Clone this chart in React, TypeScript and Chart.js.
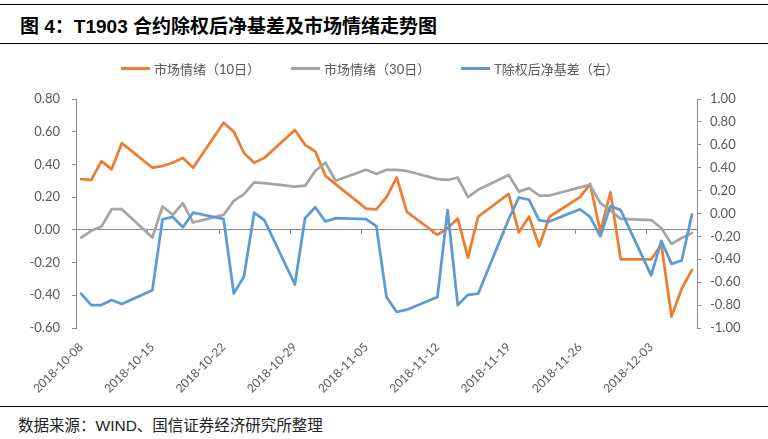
import React, { useEffect, useRef } from 'react';
import { Chart, registerables } from 'chart.js';

Chart.register(...registerables);

// ---- data ----
const tradeDates = [
  '2018-10-08', '2018-10-09', '2018-10-10', '2018-10-11', '2018-10-12',
  '2018-10-15', '2018-10-16', '2018-10-17', '2018-10-18', '2018-10-19',
  '2018-10-22', '2018-10-23', '2018-10-24', '2018-10-25', '2018-10-26',
  '2018-10-29', '2018-10-30', '2018-10-31', '2018-11-01', '2018-11-02',
  '2018-11-05', '2018-11-06', '2018-11-07', '2018-11-08', '2018-11-09',
  '2018-11-12', '2018-11-13', '2018-11-14', '2018-11-15', '2018-11-16',
  '2018-11-19', '2018-11-20', '2018-11-21', '2018-11-22', '2018-11-23',
  '2018-11-26', '2018-11-27', '2018-11-28', '2018-11-29', '2018-11-30',
  '2018-12-03', '2018-12-04', '2018-12-05', '2018-12-06', '2018-12-07',
];

const mood10 = [
  0.31, 0.305, 0.42, 0.37, 0.53,
  0.38, 0.39, 0.41, 0.44, 0.38,
  0.655, 0.6, 0.47, 0.41, 0.44,
  0.61, 0.52, 0.48, 0.33, 0.28,
  0.13, 0.125, 0.2, 0.32, 0.11,
  -0.03, 0.01, 0.07, -0.17, 0.08,
  0.22, -0.015, 0.08, -0.1, 0.08,
  0.2, 0.28, -0.01, 0.23, -0.18,
  -0.18, -0.09, -0.53, -0.36, -0.245,
];

const mood30 = [
  -0.047, -0.006, 0.02, 0.126, 0.126,
  -0.047, 0.143, 0.092, 0.163, 0.045,
  0.092, 0.177, 0.218, 0.29, 0.285,
  0.265, 0.27, 0.36, 0.41, 0.3,
  0.367, 0.342, 0.367, 0.367, 0.36,
  0.31, 0.305, 0.32, 0.2, 0.245,
  0.336, 0.234, 0.255, 0.21, 0.21,
  0.26, 0.275, 0.163, 0.12, 0.067,
  0.06, 0.01, -0.086, -0.05, -0.02,
];

const netBasis = [
  -0.7, -0.8, -0.8, -0.755, -0.79,
  -0.67, -0.05, -0.03, -0.12, 0.007,
  -0.048, -0.7, -0.55, 0.007, -0.057,
  -0.62, -0.04, 0.054, -0.07, -0.04,
  -0.05, -0.11, -0.73, -0.86, -0.84,
  -0.73, 0.03, -0.8, -0.71, -0.7,
  -0.05, 0.14, 0.12, -0.06, -0.07,
  0.037, -0.03, -0.2, 0.065, 0.03,
  -0.54, -0.24, -0.44, -0.41, -0.01,
];

const seriesNames = ['市场情绪（10日）', '市场情绪（30日）', 'T除权后净基差（右）'];
const seriesColors = ['#ED7D31', '#A5A5A5', '#5B9BD5'];
const leftRange = [-0.6, 0.8];
const rightRange = [-1, 1];
const tickStep = 0.2;
const labelEvery = 7;

const titleText = '图 4：T1903 合约除权后净基差及市场情绪走势图';
const sourceText = '数据来源：WIND、国信证券经济研究所整理';

// ---- helpers ----
function buildDays(first: string, last: string): string[] {
  const out: string[] = [];
  const d = new Date(first + 'T00:00:00Z');
  const end = new Date(last + 'T00:00:00Z');
  while (d.getTime() <= end.getTime()) {
    out.push(d.toISOString().slice(0, 10));
    d.setUTCDate(d.getUTCDate() + 1);
  }
  return out;
}
const allDays = buildDays(tradeDates[0], tradeDates[tradeDates.length - 1]);
function align(values: number[]): (number | null)[] {
  const m = new Map<string, number>();
  tradeDates.forEach((t, i) => m.set(t, values[i]));
  return allDays.map((d) => (m.has(d) ? (m.get(d) as number) : null));
}

const AXIS_GREY = '#898989';
const TEXT_GREY = '#595959';
const FONT = 'Lato, "Noto Sans CJK SC", sans-serif';

const weekTicks = {
  id: 'weekTicks',
  beforeDatasetsDraw(chart: any) {
    const xs = chart.scales.x;
    const ys = chart.scales.y;
    const y0 = ys.getPixelForValue(0);
    const w = xs.getPixelForValue(1) - xs.getPixelForValue(0);
    const ctx = chart.ctx;
    ctx.save();
    ctx.strokeStyle = AXIS_GREY;
    ctx.lineWidth = 1;
    for (let i = labelEvery; i < allDays.length; i += labelEvery) {
      const px = Math.round(xs.getPixelForValue(i) - w / 2) + 0.5;
      ctx.beginPath();
      ctx.moveTo(px, y0);
      ctx.lineTo(px, y0 + 4);
      ctx.stroke();
    }
    ctx.restore();
  },
};

export default function App() {
  const canvasRef = useRef<HTMLCanvasElement | null>(null);

  useEffect(() => {
    const canvas = canvasRef.current;
    if (!canvas) return;
    const seriesData = [mood10, mood30, netBasis];
    const chart = new Chart(canvas, {
      type: 'line',
      data: {
        labels: allDays,
        datasets: seriesData.map((vals, i) => ({
          label: seriesNames[i],
          data: align(vals),
          borderColor: seriesColors[i],
          backgroundColor: seriesColors[i],
          borderWidth: 2.75,
          pointRadius: 0,
          tension: 0,
          spanGaps: true,
          borderJoinStyle: 'round' as const,
          borderCapStyle: 'round' as const,
          yAxisID: i === 2 ? 'y1' : 'y',
          order: 3 - i,
        })),
      },
      options: {
        animation: false,
        responsive: false,
        maintainAspectRatio: false,
        layout: { padding: { top: 55, left: 0, right: 0, bottom: 0 } },
        plugins: {
          legend: { display: false },
          tooltip: { enabled: false },
        },
        scales: {
          x: {
            type: 'category',
            offset: true,
            grid: { display: false },
            border: { display: false },
            ticks: {
              autoSkip: false,
              minRotation: 45,
              maxRotation: 45,
              padding: 4,
              color: TEXT_GREY,
              font: { family: FONT, size: 12 },
              callback: function (this: any, v: any, i: number) {
                return i % labelEvery === 0 ? this.getLabelForValue(v) : null;
              },
            },
            afterFit: (s: any) => {
              s.height = 78;
            },
          },
          y: {
            position: 'left',
            min: leftRange[0],
            max: leftRange[1],
            ticks: {
              stepSize: tickStep,
              padding: 12,
              color: TEXT_GREY,
              font: { family: FONT, size: 13 },
              callback: (v: any) => Number(v).toFixed(2),
            },
            grid: {
              drawOnChartArea: true,
              color: (ctx: any) =>
                ctx.tick && Math.abs(ctx.tick.value) < 1e-9 ? AXIS_GREY : 'rgba(0,0,0,0)',
              tickColor: AXIS_GREY,
              tickLength: 4,
              lineWidth: 1,
            },
            border: { display: true, color: AXIS_GREY },
            afterFit: (s: any) => {
              s.width = 76;
            },
          },
          y1: {
            position: 'right',
            min: rightRange[0],
            max: rightRange[1],
            ticks: {
              stepSize: tickStep,
              padding: 9,
              color: TEXT_GREY,
              font: { family: FONT, size: 13 },
              callback: (v: any) => Number(v).toFixed(2),
            },
            grid: {
              drawOnChartArea: false,
              tickColor: AXIS_GREY,
              tickLength: 4,
            },
            border: { display: true, color: AXIS_GREY },
            afterFit: (s: any) => {
              s.width = 71;
            },
          },
        },
      } as any,
      plugins: [weekTicks],
    });
    return () => chart.destroy();
  }, []);

  return (
    <div
      style={{
        position: 'absolute',
        left: 0,
        top: 0,
        width: 768,
        height: 439,
        background: '#ffffff',
        overflow: 'hidden',
      }}
    >
      <div style={{ position: 'absolute', left: 0, top: 4, width: 768, height: 1, background: '#000' }} />
      <div
        style={{
          position: 'absolute',
          left: 20,
          top: 13,
          height: 27,
          lineHeight: '27px',
          fontSize: 19,
          fontWeight: 'bold',
          fontFamily: '"Liberation Sans", "Noto Sans CJK SC", sans-serif',
          color: '#000',
          whiteSpace: 'nowrap',
        }}
      >
        {titleText}
      </div>
      <div style={{ position: 'absolute', left: 0, top: 43, width: 768, height: 1, background: '#000' }} />

      <canvas
        ref={canvasRef}
        width={768}
        height={362}
        style={{ position: 'absolute', left: 0, top: 44, width: 768, height: 362 }}
      />

      <div
        style={{
          position: 'absolute',
          left: 121,
          top: 59,
          height: 18,
          display: 'flex',
          alignItems: 'center',
          gap: 31,
          fontFamily: FONT,
          fontSize: 13,
          color: TEXT_GREY,
          whiteSpace: 'nowrap',
        }}
      >
        {seriesNames.map((n, i) => (
          <div key={n} style={{ display: 'flex', alignItems: 'center' }}>
            <span
              style={{ display: 'inline-block', width: 29, height: 3, background: seriesColors[i], marginRight: 4 }}
            />
            <span>{n}</span>
          </div>
        ))}
      </div>

      <div style={{ position: 'absolute', left: 0, top: 406, width: 768, height: 1, background: '#000' }} />
      <div
        style={{
          position: 'absolute',
          left: 18,
          top: 416,
          height: 20,
          lineHeight: '20px',
          fontSize: 15.5,
          fontFamily: '"Liberation Sans", "Noto Sans CJK SC", sans-serif',
          color: '#222',
          whiteSpace: 'nowrap',
        }}
      >
        {sourceText}
      </div>
    </div>
  );
}
